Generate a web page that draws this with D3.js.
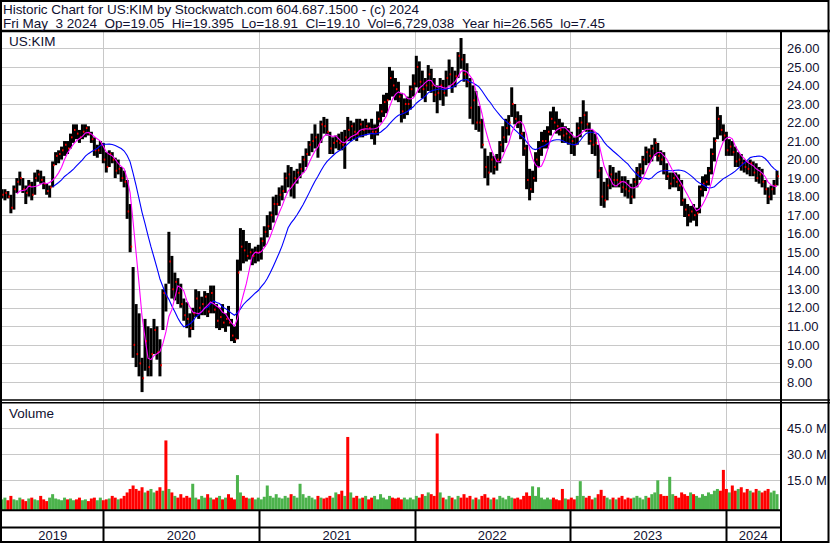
<!DOCTYPE html>
<html><head><meta charset="utf-8">
<script src="https://cdn.jsdelivr.net/npm/d3@7"></script>
<style>
html,body{margin:0;padding:0;background:#fff;}
svg{display:block;}
text{font-family:"Liberation Sans",Arial,sans-serif;fill:#101030;}
</style>
</head><body>
<svg id="c" width="830" height="543"></svg>
<script>
// ---------------- data (weekly, week ending Friday) ----------------
const startDate = "2019-05-10";
const high = [
18.4,18.4,18.3,18.1,18.6,19.0,19.35,19.0,18.6,18.9,
18.8,19.3,19.45,19.4,19.1,18.7,18.6,19.9,20.4,20.5,
20.7,21.0,21.0,21.4,21.9,21.9,21.6,21.9,21.9,21.8,
21.5,21.2,20.8,21.0,20.9,20.4,20.5,20.4,20.1,20.0,
19.6,19.4,18.9,17.6,14.2,12.2,11.7,9.3,11.4,11.0,
10.9,11.4,11.0,10.3,13.0,13.3,16.1,14.8,13.9,13.6,
13.3,12.5,12.3,11.7,12.0,13.0,12.9,12.6,12.9,12.8,
13.2,13.2,12.2,12.0,12.2,11.7,12.1,11.4,11.0,14.6,
16.3,16.2,15.6,15.5,15.2,15.3,15.4,15.8,16.4,17.0,
17.2,18.0,18.1,18.5,18.6,19.3,19.7,19.6,19.4,19.5,
19.8,20.2,20.6,21.0,21.4,21.9,21.4,22.1,22.3,22.2,
21.5,21.2,21.3,21.4,21.5,21.6,22.3,22.1,22.0,22.2,
22.2,22.1,22.2,22.0,22.2,21.9,22.6,23.0,23.5,23.6,
25.0,24.8,24.4,24.2,23.6,23.3,23.4,24.0,24.6,25.6,
25.3,24.8,24.4,25.1,24.9,24.4,24.0,24.4,24.3,24.8,
25.4,25.0,24.8,25.8,26.56,25.7,25.2,24.4,24.0,23.7,
22.9,22.2,20.6,20.2,20.4,20.2,20.3,21.0,21.8,22.2,
22.4,23.9,23.0,22.6,22.4,21.5,20.8,19.5,19.4,20.4,
21.0,21.5,21.6,21.8,22.6,22.85,22.6,22.2,22.0,21.8,
21.7,21.5,21.2,22.0,22.3,23.2,22.6,22.0,21.6,21.4,
20.8,19.6,18.8,19.0,19.7,19.6,19.3,19.4,19.1,19.1,
18.9,18.7,19.0,19.6,19.8,20.2,20.7,20.6,20.8,21.15,
20.9,20.5,20.4,19.8,19.3,19.3,19.3,19.2,18.9,17.9,
17.6,17.5,17.6,17.4,18.6,19.1,19.2,19.6,20.6,21.2,
22.85,22.4,21.9,21.5,21.1,21.0,20.7,20.4,20.3,20.0,
19.9,20.0,19.9,19.8,19.6,19.5,18.9,18.5,18.6,18.9,
19.4];
const low = [
17.9,17.8,17.9,17.1,17.3,18.2,18.6,18.2,17.6,18.0,
17.8,18.1,18.8,18.7,18.4,18.1,17.95,18.5,19.7,19.8,
20.0,20.2,20.3,20.6,20.9,21.1,20.9,21.1,21.2,21.3,
20.9,20.2,20.1,20.3,19.8,19.3,19.6,19.8,19.0,19.2,
18.8,18.5,16.8,15.0,9.3,8.8,8.3,7.45,8.6,8.3,
8.3,9.5,9.2,8.3,10.8,11.8,13.3,12.5,12.4,12.2,
12.0,11.3,10.9,10.4,10.8,11.5,11.4,11.6,11.6,11.5,
11.7,11.7,10.9,10.8,10.9,10.7,11.0,10.2,10.1,10.3,
14.0,14.4,14.5,14.6,14.3,14.4,14.5,14.6,15.3,15.8,
16.2,16.6,17.0,17.5,17.8,18.2,18.5,18.0,17.9,18.7,
19.0,19.3,19.6,20.2,20.4,20.6,20.1,20.9,21.4,21.3,
20.3,20.3,20.6,20.5,20.5,19.5,21.0,21.0,21.1,21.0,
21.2,21.2,21.3,21.4,21.1,20.8,21.3,22.0,22.3,22.5,
23.2,23.4,23.2,23.1,22.0,22.2,22.4,22.7,23.4,23.9,
23.6,23.3,23.1,23.7,23.6,23.1,22.5,23.2,22.9,23.4,
24.0,23.6,23.9,24.4,24.9,24.2,23.9,22.2,21.9,21.6,
21.5,20.6,19.0,18.6,19.3,19.2,19.4,19.8,20.4,20.9,
21.3,22.3,21.9,21.7,21.1,20.2,18.4,17.8,18.2,18.8,
19.6,20.2,20.6,20.6,21.3,21.6,21.4,21.3,20.9,20.9,
20.8,20.3,20.2,20.8,21.2,21.6,21.5,20.8,20.3,20.2,
19.0,17.5,17.4,17.8,18.4,18.5,18.5,18.5,18.2,18.0,
17.9,17.6,17.9,18.5,18.9,19.2,19.7,19.8,19.9,20.2,
19.9,19.7,19.2,18.9,18.4,18.5,18.5,18.3,17.5,16.9,
16.4,16.6,16.7,16.4,17.1,18.0,18.3,18.6,19.2,19.9,
21.1,21.3,21.0,20.2,20.2,20.2,19.6,19.6,19.4,19.3,
19.2,19.1,19.1,18.8,18.7,18.5,18.1,17.6,17.8,18.1,
18.6];
const close = [
18.1,18.2,18.0,17.4,18.4,18.8,19.0,18.4,18.2,18.6,
18.1,19.0,19.2,18.9,18.7,18.3,18.5,19.7,20.2,20.3,
20.5,20.8,20.6,21.2,21.6,21.4,21.2,21.5,21.7,21.4,
21.1,20.5,20.5,20.8,20.0,19.6,20.3,20.0,19.4,19.5,
19.0,18.8,17.2,15.3,10.0,9.5,9.0,8.2,10.2,8.8,
9.5,10.8,9.6,8.9,12.8,12.6,14.5,13.0,13.4,12.8,
12.2,11.6,11.4,10.9,11.7,12.5,12.0,12.2,12.6,11.8,
12.8,11.9,11.3,11.5,11.2,11.4,11.2,10.5,10.3,13.9,
15.3,15.1,14.8,15.0,14.8,15.0,15.0,15.6,16.1,16.4,
17.0,17.6,17.6,18.1,18.3,19.0,19.2,18.6,19.0,19.3,
19.5,20.0,20.3,20.8,21.0,21.2,20.8,21.9,21.8,21.5,
20.6,20.9,21.0,20.9,20.8,21.2,21.6,21.8,21.5,21.4,
21.9,21.6,21.8,21.7,21.5,21.5,22.2,22.6,23.1,23.2,
24.4,24.0,23.8,23.4,22.6,23.0,23.0,23.8,24.1,25.0,
24.2,23.8,24.0,24.6,24.0,23.5,23.6,24.0,23.6,24.4,
24.6,24.1,24.5,25.6,25.4,24.6,24.2,22.8,23.2,22.0,
22.0,20.8,19.6,19.3,20.0,19.6,20.0,20.8,21.2,21.7,
22.0,23.0,22.2,22.0,21.4,20.6,18.9,18.4,19.0,20.0,
20.6,21.0,21.0,21.5,22.2,22.0,21.8,21.6,21.3,21.4,
21.2,21.0,20.8,21.7,22.0,22.4,21.9,21.0,20.8,20.9,
19.4,18.0,17.8,18.6,19.2,18.9,18.9,18.8,18.5,18.4,
18.3,18.0,18.8,19.3,19.5,20.0,20.4,20.2,20.6,20.9,
20.2,20.0,19.4,19.1,18.7,19.0,18.8,18.6,17.8,17.3,
17.0,17.2,17.0,17.1,18.4,18.7,18.8,19.4,20.3,21.0,
22.2,21.6,21.3,20.5,20.7,20.4,19.9,20.0,19.8,19.6,
19.5,19.8,19.3,19.0,19.2,18.8,18.4,18.0,18.4,18.6,
19.1];
const volumeM = [
4,5,3.5,6,4,3.5,5,4,3,4.5,5,4,3.5,6,4,3,5,7,4.5,4,3.5,5,4,4.5,3.5,4,5,3.5,4,3,4.5,5,3.5,
5,3.5,4,4.5,6,5,4,4.5,6,
8,10,12,10,9,11,8,9,10,8,9,11,9,38,10,8,
6,5,7,5,6,5,13,5,4,6,5,7,5,4,5,6,4,5,7,5,4,
18,
8,6,5,4.5,5,4,5,4,5.5,12,6,5,7,5,4.5,6,5,7,6,5,13,7,5,6,5,4,6,5,4.5,5,6,5,8,7,9,6,
40,
8,5,6,4.5,5,6,4,5,6,4,7,5,4,6,5,4.5,5,4,5,4,5,4,6,5,7,6,8,7,6,
42,
8,5,4,6,5,4,6,5,7,5,6,4,5,4,6,7,5,4,5,4,6,5,4,6,5,4.5,5,4,6,8,6,11.5,6,11,5,4,5,4,5,4,3.5,10,4.5,4,5,4,6,14.5,6,5,6,4,5,7,9.5,6,5,
4,5,4,5,6,4,5,4.5,5,6,5,4,6,5,7,8,15,7,6,6,17,7,6,5,8,7,6,8,7,6,5,7,6,8,7,9,10,9,21,10,8,12,9,10,11,8,10,9,8,10,9,8,9,10,8,9,7];
// weeks whose volume spike came on a down day (red) or an up day (green)
const volumeDownWeeks = [55, 116, 146, 242];
const volumeUpWeeks = [178, 180, 194, 220, 224];

const priceTicks = [8,9,10,11,12,13,14,15,16,17,18,19,20,21,22,23,24,25,26];
const volTicks = [15,30,45];
const yearLabels = ["2019","2020","2021","2022","2023","2024"];
const titleLine1 = "Historic Chart for US:KIM by Stockwatch.com 604.687.1500 - (c) 2024";
const titleLine2 = "Fri May  3 2024  Op=19.05  Hi=19.395  Lo=18.91  Cl=19.10  Vol=6,729,038  Year hi=26.565  lo=7.45";
const symbol = "US:KIM";
const fastN = 6, slowN = 18;

// ---------------- layout ----------------
const svg = d3.select('#c');
const plotL = 2, plotR = 781, priceTop = 32, priceBot = 400, volTop = 402, volBot = 510;
const GRID = '#c8c8c8';
const FS = 13.5, FSA = 13;
const FONT = '"Liberation Sans",Arial,sans-serif';

const t0 = d3.timeParse('%Y-%m-%d')(startDate);
const dates = high.map((_, i) => d3.timeWeek.offset(t0, i));
const data = dates.map((d, i) => ({d, mid: d3.timeDay.offset(d, -2), h: high[i], l: low[i], c: close[i], v: volumeM[i],
  up: volumeDownWeeks.includes(i) ? false : volumeUpWeeks.includes(i) ? true : (i === 0 ? true : close[i] >= close[i-1])}));

const x = d3.scaleTime().domain([new Date(2020,0,1), new Date(2024,0,1)]).range([103.3, 725.5]);
const y = d3.scaleLinear().domain([8, 26]).range([381.9, 48.4]);
const yv = d3.scaleLinear().domain([0, 45]).range([506.3, 428.3]);

const yearStarts = [2020,2021,2022,2023,2024].map(yy => new Date(yy,0,1));

// clip paths
const defs = svg.append('defs');
defs.append('clipPath').attr('id','pclip').append('rect').attr('x',plotL).attr('y',priceTop).attr('width',plotR-plotL-1).attr('height',priceBot-priceTop);
defs.append('clipPath').attr('id','vclip').append('rect').attr('x',plotL).attr('y',volTop).attr('width',plotR-plotL-1).attr('height',volBot-volTop);

// price gridlines via axis
const gGrid = svg.append('g').attr('transform',`translate(${plotR},0)`)
  .call(d3.axisLeft(y).tickValues(priceTicks).tickSize(plotR-plotL).tickFormat(''));
gGrid.select('.domain').remove();
gGrid.selectAll('line').attr('stroke',GRID).attr('shape-rendering','crispEdges');

// volume gridlines
const gvGrid = svg.append('g').attr('transform',`translate(${plotR},0)`)
  .call(d3.axisLeft(yv).tickValues(volTicks).tickSize(plotR-plotL).tickFormat(''));
gvGrid.select('.domain').remove();
gvGrid.selectAll('line').attr('stroke',GRID).attr('shape-rendering','crispEdges');

// vertical year gridlines
svg.append('g').selectAll('line').data(yearStarts).join('line')
  .attr('x1',d=>Math.round(x(d))+0.5).attr('x2',d=>Math.round(x(d))+0.5)
  .attr('y1',priceTop).attr('y2',volBot).attr('stroke',GRID);

// price bars
const gp = svg.append('g').attr('clip-path','url(#pclip)');
gp.selectAll('rect.bar').data(data).join('rect').attr('class','bar')
  .attr('x',d=>x(d.mid)-1.5).attr('width',3)
  .attr('y',d=>y(d.h)).attr('height',d=>Math.max(1,y(d.l)-y(d.h)))
  .attr('fill','#000');
gp.selectAll('rect.cl').data(data).join('rect').attr('class','cl')
  .attr('x',d=>x(d.mid)+0.5).attr('width',1.5)
  .attr('y',d=>y(d.c)-1).attr('height',2)
  .attr('fill','#ff0000');

// moving averages
function sma(n){
  return data.map((d,i)=> i < n-1 ? null : {mid:d.mid, v:d3.mean(close.slice(i-n+1,i+1))}).filter(Boolean);
}
const line = d3.line().x(d=>x(d.mid)).y(d=>y(d.v));
gp.append('path').datum(sma(slowN)).attr('d',line).attr('fill','none').attr('stroke','#0000ff').attr('stroke-width',1.1);
gp.append('path').datum(sma(fastN)).attr('d',line).attr('fill','none').attr('stroke','#ff00ff').attr('stroke-width',1.1);

// volume bars
const gv = svg.append('g').attr('clip-path','url(#vclip)');
gv.selectAll('rect').data(data).join('rect')
  .attr('x',d=>x(d.mid)-1.5).attr('width',3)
  .attr('y',d=>yv(d.v)).attr('height',d=>volBot-yv(d.v))
  .attr('fill',d=>d.up ? '#4cb34c' : '#ff0000');

// right axis labels
const ga = svg.append('g').attr('transform','translate(786,0)')
  .call(d3.axisRight(y).tickValues(priceTicks).tickSize(0).tickPadding(1).tickFormat(d3.format('.2f')));
ga.select('.domain').remove();
ga.selectAll('text').attr('font-size',FSA).attr('font-family',FONT).attr('fill','#101030');

const gva = svg.append('g').attr('transform','translate(786,0)')
  .call(d3.axisRight(yv).tickValues(volTicks).tickSize(0).tickPadding(1).tickFormat(d=>d3.format('.1f')(d)+' M'));
gva.select('.domain').remove();
gva.selectAll('text').attr('font-size',FSA).attr('font-family',FONT).attr('fill','#101030');

// borders / frames
const frame = svg.append('g').attr('stroke','#000').attr('fill','none');
frame.append('rect').attr('x',1).attr('y',1).attr('width',827.5).attr('height',541).attr('stroke-width',2);
frame.append('line').attr('x1',0).attr('x2',830).attr('y1',31).attr('y2',31).attr('stroke-width',2.5);
frame.append('line').attr('x1',plotR).attr('x2',plotR).attr('y1',31).attr('y2',543).attr('stroke-width',2);
frame.append('line').attr('x1',0).attr('x2',830).attr('y1',400).attr('y2',400).attr('stroke-width',1.5);
frame.append('line').attr('x1',0).attr('x2',830).attr('y1',402.8).attr('y2',402.8).attr('stroke-width',1.5);
frame.append('line').attr('x1',0).attr('x2',plotR).attr('y1',510.2).attr('y2',510.2).attr('stroke-width',2);
frame.append('line').attr('x1',0).attr('x2',plotR).attr('y1',527.5).attr('y2',527.5).attr('stroke-width',2);
frame.selectAll('line.ysep').data(yearStarts).join('line').attr('class','ysep')
  .attr('x1',d=>Math.round(x(d))+0.5).attr('x2',d=>Math.round(x(d))+0.5)
  .attr('y1',510).attr('y2',542).attr('stroke-width',2);

// year labels (centered in each year's span)
const bounds = [plotL, ...yearStarts.map(d=>x(d)), plotR];
svg.append('g').selectAll('text').data(yearLabels).join('text')
  .attr('x',(d,i)=>(bounds[i]+bounds[i+1])/2).attr('y',539.5)
  .attr('text-anchor','middle').attr('font-size',FSA).text(d=>d);

// titles (spaces kept as non-breaking so the double spacing survives)
const nb = s => s.replace(/ /g,'\u00A0');
svg.append('text').attr('x',3).attr('y',14).attr('font-size',FS)
  .attr('textLength',416).attr('lengthAdjust','spacing').text(nb(titleLine1));
svg.append('text').attr('x',3).attr('y',27.5).attr('font-size',FS)
  .attr('textLength',602).attr('lengthAdjust','spacing').text(nb(titleLine2));
svg.append('text').attr('x',9).attr('y',46).attr('font-size',FS).text(symbol);
svg.append('text').attr('x',9).attr('y',417.5).attr('font-size',FS).text('Volume');
</script>
</body></html>
